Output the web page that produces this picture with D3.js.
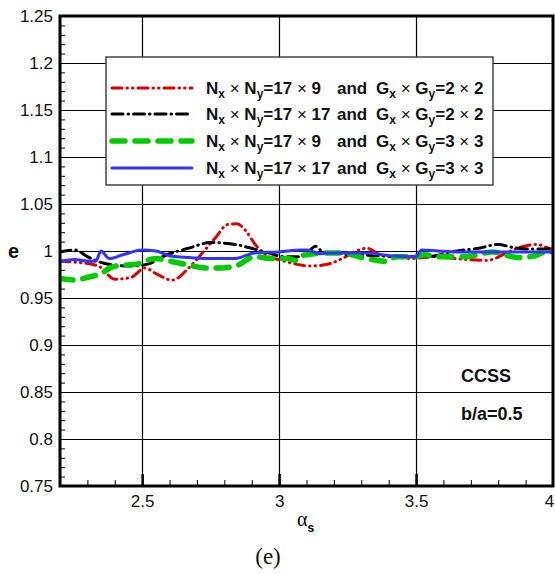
<!DOCTYPE html>
<html>
<head>
<meta charset="utf-8">
<script src="https://cdn.jsdelivr.net/npm/d3@7"></script>
<style>
  body { margin: 0; background: #fff; }
  svg text { font-family: Arial, "Liberation Sans", sans-serif; }
</style>
</head>
<body>
<div id="chart"></div>
<script>
// ---- data: [alpha_s, e] ----
const red17x9G2 = [
  [2.2, 0.989], [2.26, 0.988], [2.34, 0.984], [2.4, 0.970], [2.46, 0.972], [2.51, 0.982],
  [2.55, 0.976], [2.61, 0.969], [2.67, 0.982], [2.72, 0.998], [2.77, 1.015], [2.81, 1.028],
  [2.845, 1.029], [2.88, 1.021], [2.91, 1.008], [2.95, 0.996], [3.01, 0.990], [3.08, 0.985],
  [3.11, 0.984], [3.16, 0.985], [3.19, 0.987], [3.23, 0.992], [3.29, 1.001], [3.32, 1.003],
  [3.37, 0.996], [3.43, 0.994], [3.48, 0.992], [3.57, 0.994], [3.64, 0.992], [3.76, 0.990],
  [3.83, 0.998], [3.87, 1.003], [3.94, 1.007], [3.985, 1.003], [4.0, 1.002]
];
const black17x17G2 = [
  [2.2, 0.999], [2.255, 1.001], [2.3, 0.994], [2.36, 0.987], [2.46, 0.984], [2.52, 0.986],
  [2.59, 0.996], [2.67, 1.003], [2.75, 1.009], [2.84, 1.007], [2.91, 1.002], [2.96, 0.998],
  [3.02, 0.994], [3.08, 0.994], [3.135, 1.005], [3.16, 0.999], [3.36, 0.995], [3.43, 0.994],
  [3.54, 0.994], [3.65, 1.000], [3.73, 1.003], [3.8, 1.007], [3.85, 1.004], [3.9, 1.002],
  [3.98, 1.002], [4.0, 1.003]
];
const green17x9G3 = [
  [2.2, 0.971], [2.255, 0.969], [2.3, 0.972], [2.35, 0.976], [2.39, 0.983], [2.44, 0.985],
  [2.48, 0.986], [2.55, 0.992], [2.59, 0.990], [2.67, 0.985], [2.73, 0.982], [2.79, 0.982],
  [2.85, 0.985], [2.91, 0.994], [2.97, 0.992], [3.03, 0.992], [3.06, 0.990], [3.08, 0.995],
  [3.1, 0.996], [3.17, 0.998], [3.23, 0.998], [3.3, 0.993], [3.36, 0.990], [3.39, 0.989],
  [3.43, 0.994], [3.5, 0.994], [3.53, 0.996], [3.58, 0.994], [3.68, 0.994], [3.78, 0.999],
  [3.87, 0.993], [3.92, 0.994], [3.98, 0.999], [4.0, 0.999]
];
const blue17x17G3 = [
  [2.2, 0.989], [2.255, 0.991], [2.28, 0.990], [2.33, 0.989], [2.35, 1.000], [2.38, 0.992],
  [2.43, 0.996], [2.5, 1.001], [2.55, 1.000], [2.6, 0.995], [2.67, 0.993], [2.74, 0.992],
  [2.84, 0.992], [2.91, 0.998], [3.0, 0.999], [3.08, 1.001], [3.1, 1.001], [3.15, 0.997],
  [3.19, 0.998], [3.31, 0.998], [3.41, 0.995], [3.5, 0.994], [3.52, 1.001], [3.58, 1.000],
  [3.65, 0.999], [3.78, 0.999], [3.9, 0.999], [4.0, 0.999]
];

const xTicks = [2.5, 3, 3.5, 4];
const yTicks = [0.75, 0.8, 0.85, 0.9, 0.95, 1, 1.05, 1.1, 1.15, 1.2, 1.25];

// legend: [Nx x Ny, Gx x Gy]
const legendGrid = [["17", "9"], ["17", "17"], ["17", "9"], ["17", "17"]];
const legendGauss = [["2", "2"], ["2", "2"], ["3", "3"], ["3", "3"]];

const W = 555, H = 574;
const margin = {top: 16, right: 2, bottom: 88, left: 60};
const width = W - margin.left - margin.right;
const height = H - margin.top - margin.bottom;

const svg = d3.select("#chart").append("svg")
  .attr("width", W).attr("height", H);

const g = svg.append("g")
  .attr("transform", `translate(${margin.left},${margin.top})`);

const x = d3.scaleLinear().domain([2.2, 4]).range([0, width]);
const y = d3.scaleLinear().domain([0.75, 1.25]).range([height, 0]);

// grid lines
g.append("g").selectAll("line.hg")
  .data(yTicks.slice(1, -1))
  .enter().append("line")
  .attr("x1", 0).attr("x2", width)
  .attr("y1", d => Math.round(y(d)) + 0.5).attr("y2", d => Math.round(y(d)) + 0.5)
  .attr("stroke", "#000").attr("stroke-width", 1.2);

g.append("g").selectAll("line.vg")
  .data(xTicks.slice(0, -1))
  .enter().append("line")
  .attr("y1", 0).attr("y2", height)
  .attr("x1", d => Math.round(x(d)) + 0.5).attr("x2", d => Math.round(x(d)) + 0.5)
  .attr("stroke", "#000").attr("stroke-width", 1.2);

// minor ticks
g.append("g")
  .call(d3.axisLeft(y).tickValues(d3.range(75, 126).map(v => v / 100)).tickSize(-5).tickFormat(""))
  .call(a => a.select(".domain").remove())
  .selectAll("line").attr("stroke", "#000");

g.append("g")
  .attr("transform", `translate(0,${height})`)
  .call(d3.axisBottom(x).tickValues(d3.range(23, 40).map(v => v / 10)).tickSize(-6).tickFormat(""))
  .call(a => a.select(".domain").remove())
  .selectAll("line").attr("stroke", "#000");

g.append("g")
  .attr("transform", `translate(0,${height})`)
  .call(d3.axisBottom(x).tickValues(xTicks.slice(0, -1)).tickSize(-12).tickFormat(""))
  .call(a => a.select(".domain").remove())
  .selectAll("line").attr("stroke", "#000").attr("stroke-width", 2.5);

// tick labels
g.append("g")
  .call(d3.axisLeft(y).tickValues(yTicks).tickSize(0).tickPadding(7).tickFormat(d => String(+d.toFixed(2))))
  .call(a => a.select(".domain").remove())
  .selectAll("text").style("font-size", "17px").attr("fill", "#111")
  .attr("font-family", "Arial, 'Liberation Sans', sans-serif");

g.append("g")
  .attr("transform", `translate(0,${height})`)
  .call(d3.axisBottom(x).tickValues(xTicks).tickSize(0).tickPadding(9).tickFormat(d => String(d)))
  .call(a => a.select(".domain").remove())
  .selectAll("text").style("font-size", "17px").attr("fill", "#111")
  .attr("font-family", "Arial, 'Liberation Sans', sans-serif")
  .attr("dx", d => d === 4 ? -4 : 0);

// data lines
const line = d3.line().x(d => x(d[0])).y(d => y(d[1])).curve(d3.curveMonotoneX);

const styles = [
  {data: red17x9G2, color: "#dd0000", w: 3, dash: "10,5,0.5,5,0.5,5"},
  {data: black17x17G2, color: "#000000", w: 3, dash: "11,5,0.5,5"},
  {data: green17x9G3, color: "#00cc00", w: 5.5, dash: "13,10"},
  {data: blue17x17G3, color: "#3333ff", w: 3, dash: null}
];

svg.append("clipPath").attr("id", "clip")
  .append("rect").attr("width", width).attr("height", height);

g.append("g").attr("clip-path", "url(#clip)")
  .selectAll("path.series")
  .data(styles)
  .enter().append("path")
  .attr("class", "series")
  .attr("d", d => line(d.data))
  .attr("fill", "none")
  .attr("stroke", d => d.color)
  .attr("stroke-width", d => d.w)
  .attr("stroke-linecap", "round")
  .attr("stroke-linejoin", "round")
  .attr("stroke-dasharray", d => d.dash);

// frame
g.append("rect")
  .attr("width", width).attr("height", height)
  .attr("fill", "none").attr("stroke", "#000").attr("stroke-width", 3);

// legend
const lg = svg.append("g").attr("transform", "translate(106,57)");
lg.append("rect")
  .attr("width", 387).attr("height", 128)
  .attr("fill", "#fff").attr("stroke", "#444").attr("stroke-width", 1.5);

const rowY = [31, 57, 84, 111];

lg.selectAll("line.key")
  .data(styles)
  .enter().append("line")
  .attr("x1", 6).attr("x2", 86)
  .attr("y1", (d, i) => rowY[i]).attr("y2", (d, i) => rowY[i])
  .attr("stroke", d => d.color)
  .attr("stroke-width", d => d.w)
  .attr("stroke-linecap", "round")
  .attr("stroke-dasharray", d => d.dash);

function product(t, a, b, sa, sb) {
  // a_sa x b_sb
  t.append("tspan").text(a);
  t.append("tspan").attr("dy", 4).style("font-size", "12px").text(sa);
  t.append("tspan").attr("dy", -4).attr("font-weight", "normal").text(" \u00d7 ");
  t.append("tspan").text(b);
  t.append("tspan").attr("dy", 4).style("font-size", "12px").text(sb);
}

legendGrid.forEach((p, i) => {
  const t1 = lg.append("text")
    .attr("x", 100).attr("y", rowY[i] + 6)
    .style("font-size", "17px").attr("font-weight", "bold").attr("fill", "#111");
  product(t1, "N", "N", "x", "y");
  t1.append("tspan").attr("dy", -4).text("=" + p[0]);
  t1.append("tspan").attr("font-weight", "normal").text(" \u00d7 ");
  t1.append("tspan").text(p[1]);

  lg.append("text")
    .attr("x", 231).attr("y", rowY[i] + 6)
    .style("font-size", "17px").attr("font-weight", "bold").attr("fill", "#111")
    .text("and");

  const t2 = lg.append("text")
    .attr("x", 270).attr("y", rowY[i] + 6)
    .style("font-size", "17px").attr("font-weight", "bold").attr("fill", "#111");
  product(t2, "G", "G", "x", "y");
  t2.append("tspan").attr("dy", -4).text("=" + legendGauss[i][0]);
  t2.append("tspan").attr("font-weight", "normal").text(" \u00d7 ");
  t2.append("tspan").text(legendGauss[i][1]);
});

// annotations
svg.append("text").attr("x", 461).attr("y", 382)
  .style("font-size", "18px").attr("font-weight", "bold").attr("fill", "#111").text("CCSS");
svg.append("text").attr("x", 461).attr("y", 420)
  .style("font-size", "18px").attr("font-weight", "bold").attr("fill", "#111").text("b/a=0.5");

// axis titles
svg.append("text").attr("x", 8).attr("y", 258)
  .style("font-size", "20px").attr("font-weight", "bold").attr("fill", "#111").text("e");

const ax = svg.append("text").attr("x", 297).attr("y", 526);
ax.append("tspan").style("font-family", "'Liberation Serif', 'Times New Roman', serif")
  .style("font-size", "20px").text("\u03b1");
ax.append("tspan").attr("dy", 6).style("font-size", "12px").attr("font-weight", "bold").text("s");

svg.append("text").attr("x", 268).attr("y", 564).attr("text-anchor", "middle")
  .style("font-family", "'Liberation Serif', 'Times New Roman', serif")
  .style("font-size", "23px").attr("fill", "#111").text("(e)");
</script>
</body>
</html>
